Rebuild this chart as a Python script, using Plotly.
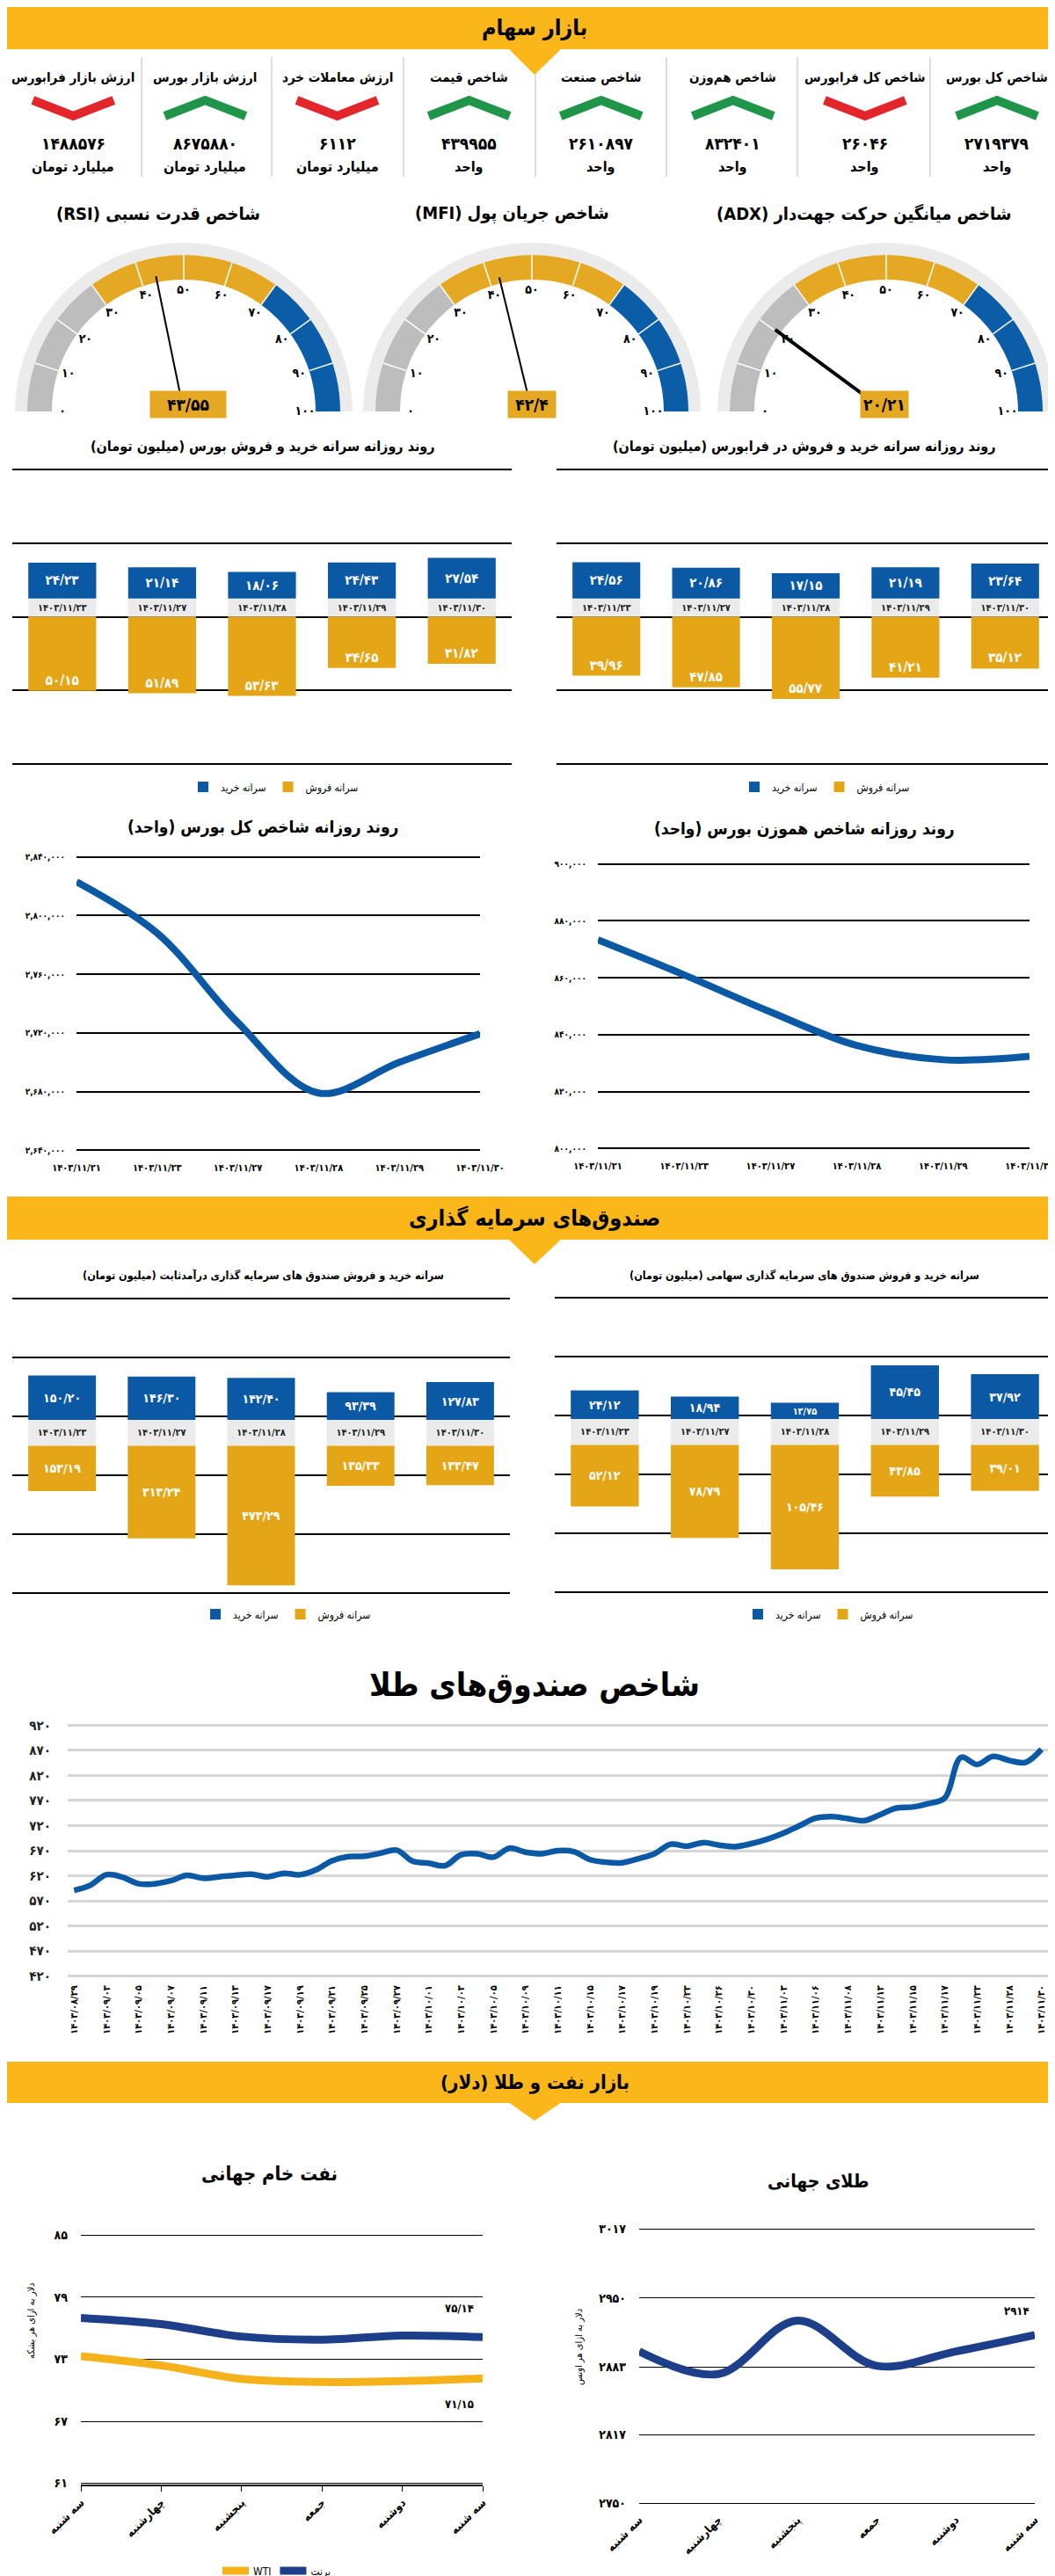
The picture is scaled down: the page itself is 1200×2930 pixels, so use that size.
import plotly.graph_objects as go

# ---------------- data ----------------
indicator_names = ['شاخص کل بورس', 'شاخص کل فرابورس', 'شاخص هم‌وزن', 'شاخص صنعت',
                   'شاخص قیمت', 'ارزش معاملات خرد', 'ارزش بازار بورس', 'ارزش بازار فرابورس']
indicator_values = [2719379, 26046, 832401, 2610897, 439955, 6112, 8675880, 1488576]
indicator_units = ['واحد', 'واحد', 'واحد', 'واحد', 'واحد',
                   'میلیارد تومان', 'میلیارد تومان', 'میلیارد تومان']
indicator_trend = ['up', 'down', 'up', 'up', 'up', 'down', 'up', 'down']

gauge_titles = ['شاخص میانگین حرکت جهت‌دار (ADX)', 'شاخص جریان پول (MFI)', 'شاخص قدرت نسبی (RSI)']
gauge_values = [20.21, 42.4, 43.55]
gauge_zones = [0, 30, 70, 100]
gauge_ticks = [0, 10, 20, 30, 40, 50, 60, 70, 80, 90, 100]

bar_dates = ['1403/11/23', '1403/11/27', '1403/11/28', '1403/11/29', '1403/11/30']
bourse_buy = [24.23, 21.14, 18.06, 24.43, 27.54]
bourse_sell = [50.15, 51.89, 53.63, 34.65, 31.82]
farabourse_buy = [24.56, 20.86, 17.15, 21.19, 23.64]
farabourse_sell = [39.96, 47.85, 55.77, 41.21, 35.12]

index_dates = ['1403/11/21', '1403/11/23', '1403/11/27', '1403/11/28', '1403/11/29', '1403/11/30']
total_index = [2823000, 2788000, 2727000, 2679000, 2700000, 2719379]
total_ticks = [2640000, 2680000, 2720000, 2760000, 2800000, 2840000]
equal_index = [873300, 861000, 848000, 836200, 831200, 832401]
equal_ticks = [800000, 820000, 840000, 860000, 880000, 900000]

fixed_buy = [150.20, 146.30, 142.40, 93.39, 127.83]
fixed_sell = [153.19, 313.24, 473.29, 135.33, 133.47]
equity_buy = [24.12, 18.94, 13.75, 45.45, 37.92]
equity_sell = [52.12, 78.79, 105.46, 43.85, 39.01]

gold_fund_labels = ['1403/08/29', '1403/09/03', '1403/09/05', '1403/09/07', '1403/09/11', '1403/09/13',
                    '1403/09/17', '1403/09/19', '1403/09/21', '1403/09/25', '1403/09/27', '1403/10/01',
                    '1403/10/03', '1403/10/05', '1403/10/09', '1403/10/11', '1403/10/15', '1403/10/17',
                    '1403/10/19', '1403/10/23', '1403/10/26', '1403/10/30', '1403/11/03', '1403/11/06',
                    '1403/11/08', '1403/11/13', '1403/11/15', '1403/11/17', '1403/11/23', '1403/11/28',
                    '1403/11/30']
gold_fund_index = [591, 601, 622, 617, 604, 604, 610, 621, 615, 618,
                   621, 623, 618, 625, 622, 632, 650, 658, 659, 665,
                   671, 649, 645, 640, 662, 664, 657, 675, 667,
                   664, 670, 668, 652, 647, 646, 654, 664, 683, 679,
                   686, 681, 678, 684, 693, 705, 720, 735, 738, 734,
                   730, 742, 755, 757, 764, 775, 856, 842, 858, 850,
                   846, 872]
gold_fund_ticks = [420, 470, 520, 570, 620, 670, 720, 770, 820, 870, 920]

week_days = ['سه شنبه', 'چهارشنبه', 'پنجشنبه', 'جمعه', 'دوشنبه', 'سه شنبه']
brent = [77.0, 76.4, 75.2, 74.9, 75.3, 75.14]
wti = [73.3, 72.4, 71.1, 70.8, 70.9, 71.15]
oil_ticks = [61, 67, 73, 79, 85]
gold_price = [2898, 2876, 2928, 2884, 2898, 2914]
gold_ticks = [2750, 2817, 2883, 2950, 3017]

# ---------------- helpers / styles ----------------
W, H = 1200, 2930
def fx(x): return x / W
def fy(y): return 1 - y / H

_FA = str.maketrans('0123456789.', '۰۱۲۳۴۵۶۷۸۹/')
def fa(s): return str(s).translate(_FA)
def rtl(s): return '\u202b' + s + '\u202c'
def pad(lo, hi, f=0.005):
    d = (hi - lo) * f
    return [lo - d, hi + d]

FONT = 'DejaVu Sans Condensed, DejaVu Sans, sans-serif'
BANNER = '#FBB71A'
BAR_Y = '#E4A617'
BLUE = '#0B59A5'
NAVY = '#1D3F8A'
WTI_C = '#F6B21B'
STRIP = '#EBEBEB'
GREEN = '#1F9549'
RED = '#E3262B'
RING = '#EBEBEB'
ZONE_COLORS = ['#BDBDBD', '#E5A823', '#0C5DA8']

fig = go.Figure()
shapes, ann, lay = [], [], {}

def text(x, y, s, size, color='black', bold=True, angle=0, xanchor='center'):
    ann.append(dict(x=fx(x), y=fy(y), xref='paper', yref='paper', text=s, showarrow=False,
                    textangle=angle, xanchor=xanchor, yanchor='middle',
                    font=dict(family=FONT, size=size, color=color, weight='bold' if bold else 'normal')))

def banner(y0, y1, tip, title, size):
    shapes.append(dict(type='rect', xref='paper', yref='paper', x0=0, x1=1, y0=fy(y1), y1=fy(y0),
                       fillcolor=BANNER, line_width=0))
    shapes.append(dict(type='path', xref='paper', yref='paper',
                       path=f'M {fx(570)},{fy(y1 - 1)} L {fx(631)},{fy(y1 - 1)} L {fx(600)},{fy(tip)} Z',
                       fillcolor=BANNER, line_width=0))
    text(600, (y0 + y1) / 2, rtl(title), size)

def keys(n):
    s = '' if n == 1 else str(n)
    return 'xaxis' + s, 'yaxis' + s, 'x' + s, 'y' + s

# ---------------- section 1: banner + indicators ----------------
banner(0, 48, 77, 'بازار سهام', 25)
for sx in [153, 301, 451, 601, 750, 899, 1050]:
    shapes.append(dict(type='line', xref='paper', yref='paper', x0=fx(sx), x1=fx(sx), y0=fy(193), y1=fy(57),
                       line=dict(color='#BBBBBB', width=1), layer='below'))
for i, (nm, v, u, t) in enumerate(zip(indicator_names, indicator_values, indicator_units, indicator_trend)):
    cx = 1126 - 150.1 * i
    text(cx, 80, rtl(nm), 15)
    text(cx, 155, fa(v), 19)
    text(cx, 182, rtl(u), 16)
    cy, a, hh = 115, 46, 9
    if t == 'up':
        p = f'M {fx(cx - a)},{fy(cy + hh)} L {fx(cx)},{fy(cy - hh)} L {fx(cx + a)},{fy(cy + hh)}'
        col = GREEN
    else:
        p = f'M {fx(cx - a)},{fy(cy - hh)} L {fx(cx)},{fy(cy + hh)} L {fx(cx + a)},{fy(cy - hh)}'
        col = RED
    shapes.append(dict(type='path', xref='paper', yref='paper', path=p, line=dict(color=col, width=10)))

# ---------------- gauges ----------------
R, GB = 192, 460
gauge_centers = [1000, 597, 201]
gauge_title_x = [975, 574, 172]
box_x = [998, 597, 206]
box_w = [54, 54, 86]
needle_w = [4, 2, 2]
for k in range(3):
    pid = 'polar' if k == 0 else f'polar{k + 1}'
    c, v = gauge_centers[k], gauge_values[k]
    fig.add_trace(go.Barpolar(r=[14], base=[178], theta=[90], width=[180], subplot=pid,
                              marker=dict(color=RING, line_width=0), showlegend=False, hoverinfo='skip'))
    lo, hi = gauge_zones[:-1], gauge_zones[1:]
    fig.add_trace(go.Barpolar(r=[28] * 3, base=[150] * 3,
                              theta=[(a + b) / 2 * 1.8 for a, b in zip(lo, hi)],
                              width=[(b - a) * 1.8 for a, b in zip(lo, hi)], subplot=pid,
                              marker=dict(color=ZONE_COLORS, line_width=0), showlegend=False, hoverinfo='skip'))
    rr, tt = [], []
    for tv in gauge_ticks[1:-1]:
        rr += [150, 178, None]
        tt += [tv * 1.8, tv * 1.8, None]
    fig.add_trace(go.Scatterpolar(r=rr, theta=tt, mode='lines', line=dict(color='white', width=1.5),
                                  subplot=pid, showlegend=False, hoverinfo='skip'))
    fig.add_trace(go.Scatterpolar(r=[138] * len(gauge_ticks), theta=[tv * 1.8 for tv in gauge_ticks],
                                  text=[fa(tv) for tv in gauge_ticks], mode='text', cliponaxis=False,
                                  textfont=dict(family=FONT, size=14, color='black', weight='bold'),
                                  subplot=pid, showlegend=False, hoverinfo='skip'))
    fig.add_trace(go.Scatterpolar(r=[0, 157], theta=[v * 1.8, v * 1.8], mode='lines',
                                  line=dict(color='black', width=needle_w[k]), cliponaxis=False,
                                  subplot=pid, showlegend=False, hoverinfo='skip'))
    lay[pid] = dict(domain=dict(x=[fx(c - R), fx(c + R)], y=[fy(GB), fy(GB - R)]), sector=[0, 180],
                    bgcolor='rgba(0,0,0,0)', hole=0,
                    radialaxis=dict(range=[0, R], visible=False, showgrid=False),
                    angularaxis=dict(direction='clockwise', rotation=180, visible=False, showgrid=False,
                                     thetaunit='degrees'))
    text(gauge_title_x[k], 235, rtl(gauge_titles[k]), 20)
    ann.append(dict(x=fx(box_x[k]), y=fy(452), xref='paper', yref='paper', text=fa(f'{v:g}'),
                    showarrow=False, bgcolor='#E5A823', width=box_w[k], height=30, borderpad=0,
                    xanchor='center', yanchor='middle',
                    font=dict(family=FONT, size=19, color='black', weight='bold')))

# ---------------- bar charts ----------------
def bar_chart(n, xr, yr, dates, buy, sell, strip, ticks, legend_id, sell_anchor, vsize):
    xk, yk, xa, ya = keys(n)
    cats = [fa(d) for d in dates]
    fig.add_trace(go.Bar(x=cats, y=[strip] * len(cats), xaxis=xa, yaxis=ya, marker=dict(color=STRIP, line_width=0),
                         text=cats, textposition='inside', insidetextanchor='middle', textangle=0,
                         textfont=dict(family=FONT, size=11, color='#222222', weight='bold'),
                         showlegend=False, hoverinfo='skip'))
    fig.add_trace(go.Bar(x=cats, y=buy, name=rtl('سرانه خرید'), xaxis=xa, yaxis=ya,
                         marker=dict(color=BLUE, line_width=0),
                         text=[fa(f'{v:.2f}') for v in buy], textposition='inside', insidetextanchor='middle',
                         textangle=0, textfont=dict(family=FONT, size=vsize, color='white', weight='bold'),
                         legend=legend_id))
    fig.add_trace(go.Bar(x=cats, y=[-v for v in sell], name=rtl('سرانه فروش'), xaxis=xa, yaxis=ya,
                         marker=dict(color=BAR_Y, line_width=0),
                         text=[fa(f'{v:.2f}') for v in sell], textposition='inside',
                         insidetextanchor=sell_anchor, textangle=0,
                         textfont=dict(family=FONT, size=vsize, color='white', weight='bold'),
                         legend=legend_id))
    lay[xk] = dict(domain=[fx(xr[0]), fx(xr[1])], anchor=ya, visible=False, type='category', automargin=False)
    lay[yk] = dict(domain=[fy(yr[1]), fy(yr[0])], anchor=xa, range=pad(ticks[0], ticks[-1]), tickvals=ticks,
                   showticklabels=False, showgrid=True, gridcolor='black', gridwidth=1.5, zeroline=False,
                   ticks='', showline=False, automargin=False)

def legend_cfg(x, y):
    return dict(x=fx(x), y=fy(y), xanchor='left', yanchor='middle', orientation='h',
                bgcolor='rgba(0,0,0,0)', itemwidth=30, tracegroupgap=0,
                font=dict(family=FONT, size=12, color='black'))

text(291, 500, rtl('روند روزانه سرانه خرید و فروش بورس (میلیون تومان)'), 16)
text(907, 500, rtl('روند روزانه سرانه خرید و فروش در فرابورس (میلیون تومان)'), 16)
bar_chart(1, (6, 574), (524, 863), bar_dates, bourse_buy, bourse_sell, 12.4,
          [-100, -50, 0, 50, 100], 'legend', 'end', 15)
bar_chart(2, (625, 1192), (524, 863), bar_dates, farabourse_buy, farabourse_sell, 12.4,
          [-100, -50, 0, 50, 100], 'legend2', 'end', 15)
lay['legend'] = legend_cfg(203, 887)
lay['legend2'] = legend_cfg(830, 887)

# ---------------- index line charts ----------------
def line_chart(n, xr, yr, dates, vals, ticks, title_xy, title):
    xk, yk, xa, ya = keys(n)
    cats = [fa(d) for d in dates]
    fig.add_trace(go.Scatter(x=cats, y=vals, xaxis=xa, yaxis=ya, mode='lines',
                             line=dict(color=BLUE, width=8, shape='spline'), showlegend=False))
    lay[xk] = dict(domain=[fx(xr[0]), fx(xr[1])], anchor=ya, type='category', range=[0, len(cats) - 1],
                   showgrid=False, zeroline=False, showline=False, ticks='', ticklabelstandoff=10,
                   automargin=False, tickfont=dict(family=FONT, size=11, color='black', weight='bold'))
    lay[yk] = dict(domain=[fy(yr[1]), fy(yr[0])], anchor=xa, range=pad(ticks[0], ticks[-1]), tickvals=ticks,
                   ticktext=[fa(f'{t:,}') for t in ticks], showgrid=True, gridcolor='black', gridwidth=1.5,
                   zeroline=False, ticks='', ticklabelstandoff=12, automargin=False,
                   tickfont=dict(family=FONT, size=10, color='black', weight='bold'))
    text(title_xy[0], title_xy[1], rtl(title), 19)

line_chart(3, (79, 538), (965, 1302), index_dates, total_index, total_ticks, (291, 932),
           'روند روزانه شاخص کل بورس (واحد)')
line_chart(4, (672, 1163), (973, 1300), index_dates, equal_index, equal_ticks, (907, 935),
           'روند روزانه شاخص هموزن بورس (واحد)')

# ---------------- section 2: funds ----------------
banner(1353, 1402, 1430, 'صندوق‌های سرمایه گذاری', 25)
text(291, 1443, rtl('سرانه خرید و فروش صندوق های سرمایه گذاری درآمدثابت (میلیون تومان)'), 12.5)
text(907, 1443, rtl('سرانه خرید و فروش صندوق های سرمایه گذاری سهامی (میلیون تومان)'), 12.5)
bar_chart(5, (6, 572), (1467, 1806), bar_dates, fixed_buy, fixed_sell, 88,
          [-500, -300, -100, 100, 300, 500], 'legend3', 'middle', 14)
bar_chart(6, (623, 1192), (1466, 1805), bar_dates, equity_buy, equity_sell, 22,
          [-125, -75, -25, 25, 75, 125], 'legend4', 'middle', 14)
lay['legend3'] = legend_cfg(217, 1828)
lay['legend4'] = legend_cfg(834, 1828)

# ---------------- gold funds index ----------------
text(600, 1908, rtl('شاخص صندوق‌های طلا'), 37)
fig.add_trace(go.Scatter(x=list(range(len(gold_fund_index))), y=gold_fund_index, xaxis='x7', yaxis='y7',
                         mode='lines', line=dict(color=BLUE, width=6.5, shape='spline'), showlegend=False))
lay['xaxis7'] = dict(domain=[fx(69), fx(1184)], anchor='y7', range=[-0.4, len(gold_fund_index) - 0.6],
                     tickvals=list(range(0, len(gold_fund_index), 2)), ticktext=[fa(d) for d in gold_fund_labels],
                     tickangle=-90, showgrid=False, zeroline=False, showline=False, ticks='', ticklabelstandoff=6,
                     automargin=False, tickfont=dict(family=FONT, size=11, color='black', weight='bold'))
lay['yaxis7'] = dict(domain=[fy(2241), fy(1953)], anchor='x7', range=pad(gold_fund_ticks[0], gold_fund_ticks[-1]),
                     tickvals=gold_fund_ticks, ticktext=[fa(t) for t in gold_fund_ticks], showgrid=True,
                     gridcolor='#D6D6D6', gridwidth=2.5, zeroline=False, ticks='', ticklabelstandoff=18,
                     automargin=False, tickfont=dict(family=FONT, size=15, color='#222222', weight='bold'))

# ---------------- section 3: oil & gold ----------------
banner(2337, 2384, 2404, 'بازار نفت و طلا (دلار)', 22)
text(298, 2465, rtl('نفت خام جهانی'), 22)
text(922, 2473, rtl('طلای جهانی'), 21)

xs = list(range(len(week_days)))
fig.add_trace(go.Scatter(x=xs, y=wti, name='WTI', xaxis='x8', yaxis='y8', mode='lines',
                         line=dict(color=WTI_C, width=9, shape='spline'), legend='legend5'))
fig.add_trace(go.Scatter(x=xs, y=brent, name=rtl('برنت'), xaxis='x8', yaxis='y8', mode='lines',
                         line=dict(color=NAVY, width=9, shape='spline'), legend='legend5'))
lay['xaxis8'] = dict(domain=[fx(84), fx(541)], anchor='y8', range=[0, len(xs) - 1], tickvals=xs,
                     ticktext=week_days, tickangle=-45, ticks='outside', ticklen=6, tickcolor='black',
                     showline=True, linecolor='black', linewidth=1.5, showgrid=False, zeroline=False,
                     automargin=False, tickfont=dict(family=FONT, size=13, color='black', weight='bold'))
lay['yaxis8'] = dict(domain=[fy(2818), fy(2533)], anchor='x8', range=pad(oil_ticks[0], oil_ticks[-1]),
                     tickvals=oil_ticks, ticktext=[fa(t) for t in oil_ticks], showgrid=True, gridcolor='black',
                     gridwidth=1.2, zeroline=False, ticks='', ticklabelstandoff=14, automargin=False,
                     tickfont=dict(family=FONT, size=14, color='black', weight='bold'))
lay['legend5'] = dict(x=fx(240), y=fy(2916), xanchor='left', yanchor='middle', orientation='h',
                      bgcolor='rgba(0,0,0,0)', itemwidth=30, tracegroupgap=0,
                      font=dict(family=FONT, size=12, color='black'))
ann.append(dict(x=len(xs) - 1, y=brent[-1], xref='x8', yref='y8', text=fa(f'{brent[-1]:.2f}'), showarrow=False,
                xanchor='right', yanchor='middle', xshift=-8, yshift=33,
                font=dict(family=FONT, size=13, color='black', weight='bold')))
ann.append(dict(x=len(xs) - 1, y=wti[-1], xref='x8', yref='y8', text=fa(f'{wti[-1]:.2f}'), showarrow=False,
                xanchor='right', yanchor='middle', xshift=-8, yshift=-29,
                font=dict(family=FONT, size=13, color='black', weight='bold')))
text(27, 2632, rtl('دلار به ازای هر بشکه'), 11, bold=False, angle=-90)

fig.add_trace(go.Scatter(x=xs, y=gold_price, xaxis='x9', yaxis='y9', mode='lines',
                         line=dict(color=NAVY, width=9, shape='spline'), showlegend=False))
lay['xaxis9'] = dict(domain=[fx(719), fx(1169)], anchor='y9', range=[0, len(xs) - 1], tickvals=xs,
                     ticktext=week_days, tickangle=-45, ticks='', showline=False, showgrid=False,
                     zeroline=False, ticklabelstandoff=6, automargin=False,
                     tickfont=dict(family=FONT, size=13, color='black', weight='bold'))
lay['yaxis9'] = dict(domain=[fy(2841), fy(2526)], anchor='x9', range=pad(gold_ticks[0], gold_ticks[-1]),
                     tickvals=gold_ticks, ticktext=[fa(t) for t in gold_ticks], showgrid=True, gridcolor='black',
                     gridwidth=1.2, zeroline=False, ticks='', ticklabelstandoff=14, automargin=False,
                     tickfont=dict(family=FONT, size=14, color='black', weight='bold'))
ann.append(dict(x=len(xs) - 1, y=gold_price[-1], xref='x9', yref='y9', text=fa(gold_price[-1]), showarrow=False,
                xanchor='right', yanchor='middle', xshift=-4, yshift=27,
                font=dict(family=FONT, size=13, color='black', weight='bold')))
text(650, 2662, rtl('دلار به ازای هر اونس'), 11, bold=False, angle=-90)

fig.update_layout(width=W, height=H, margin=dict(l=0, r=0, t=0, b=0, autoexpand=False), paper_bgcolor='white',
                  plot_bgcolor='white', barmode='relative', bargap=0.32, showlegend=True,
                  font=dict(family=FONT, color='black'), shapes=shapes, annotations=ann, **lay)
fig.write_html('out.html')
